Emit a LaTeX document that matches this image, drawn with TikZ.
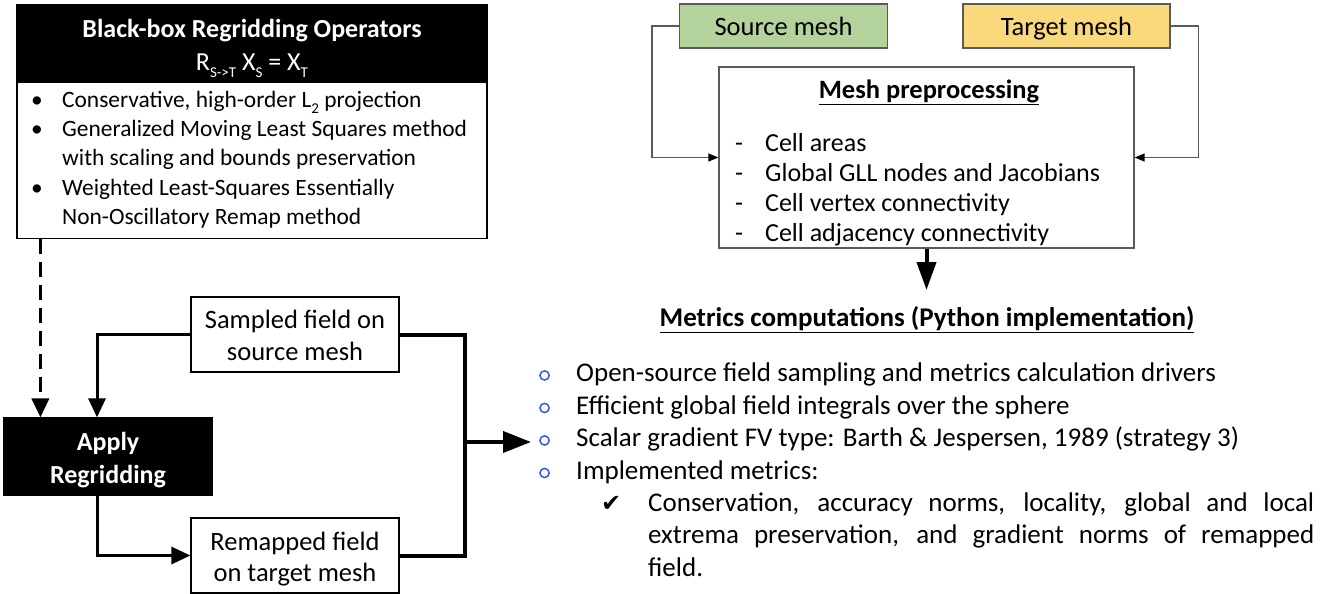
\documentclass[tikz,border=0pt]{standalone}
\usepackage{fontspec}
\setmainfont{Carlito}
\newfontfamily\symbolfont{DejaVu Sans}
\usetikzlibrary{arrows.meta, positioning, calc}
\definecolor{srcgreen}{HTML}{B4D39C}
\definecolor{tgtyellow}{HTML}{FAD97C}
\definecolor{bulblue}{HTML}{2E5BE8}
\definecolor{rimgray}{HTML}{5A5A5A}
\newcommand{\lowsub}[2][7pt]{\raisebox{-#1}{\fontsize{15}{15}\selectfont #2}}
\newcommand{\boxtext}[2][0pt]{\raisebox{-#1}[\height][\depth]{\begin{tabular}{@{}c@{}}#2\end{tabular}}}
\newcommand{\listtext}[1]{\begin{tabular}{@{}l@{}}#1\end{tabular}}
\newcommand{\opsitem}{\makebox[36pt][l]{\hspace{5pt}\textbullet}}
\newcommand{\opsgap}{\hspace*{36pt}}
\newcommand{\prepitem}{\makebox[34pt][l]{\hspace{4pt}-}}
\newcommand{\metitem}{\makebox[39pt][l]{\hspace{2pt}\tikz[baseline=-6.3pt]\draw[bulblue, line width=1.5pt] (0,0) circle[radius=4.6pt];}}
\tikzset{%
	plain/.style={draw, rectangle, inner sep=0mm, line width=1.2pt, align=center,
		font=\fontsize{26.5}{32}\selectfont},
	dark/.style={plain, fill=black, text=white},
	mesh/.style={plain, draw=rimgray, minimum width=208pt, minimum height=44pt,
		text height=24.5pt, text depth=5.5pt},
	textnode/.style={inner sep=0mm, align=left},
	flow/.style={-{Triangle[length=19pt, width=17pt]}, line width=3pt},
	dashflow/.style={flow, line width=3.8pt, dash pattern=on 15pt off 8pt},
	bracket/.style={line width=4pt},
	bigflow/.style={-{Triangle[length=28pt, width=21pt]}, line width=4pt},
	feed/.style={-{Triangle[length=10pt, width=8pt, color=black]}, line width=1.3pt, draw=rimgray}
}

\begin{document}
\begin{tikzpicture}[x=1pt, y=-1pt]
	\useasboundingbox (0,0) rectangle (1326,594);
	% regridding side
	\node[dark, minimum width=470pt, minimum height=76pt, font=\fontsize{26}{33}\selectfont] (hdr) at (252,43)
		{\boxtext[4pt]{\textbf{Black-box Regridding Operators}\\R\lowsub{S->T} X\lowsub{S} = X\lowsub{T}}};
	\node[plain, minimum width=470pt, minimum height=156pt, below=0pt of hdr] (ops) {};
	\node[textnode, anchor=west, font=\fontsize{23.4}{29.3}\selectfont] (opslist) at (26,160)
		{\listtext{\opsitem Conservative, high-order L\lowsub[6pt]{2} projection\\
		\opsitem Generalized Moving Least Squares method\\
		\opsgap with scaling and bounds preservation\\
		\opsitem Weighted Least-Squares Essentially\\
		\opsgap Non-Oscillatory Remap method}};
	\node[dark, minimum width=208pt, minimum height=77pt, font=\bfseries\fontsize{26}{33}\selectfont] (apply) at (108,456.5)
		{\boxtext[3.5pt]{Apply\\Regridding}};
	\node[plain, minimum width=208pt, minimum height=75pt] (sampled) at (295,334.5)
		{\boxtext[3.3pt]{Sampled field on\\source mesh}};
	\node[plain, minimum width=208pt, minimum height=75pt, font=\fontsize{26.5}{31}\selectfont] (remapped) at (295,555.5)
		{\boxtext[4.5pt]{Remapped field\\on target mesh}};
	\coordinate (joint) at (465,442);
	\coordinate (metin) at (531,442);

	\draw[dashflow] ($(ops.south west)+(24,0)$) -- ($(apply.north west)+(37,0)$);
	\draw[flow] (sampled.west) -| ($(apply.north)+(-11,0)$);
	\draw[flow] ($(apply.south)+(-11,0)$) |- (remapped.west);
	\draw[bracket] (sampled.east) -| (joint) |- (remapped.east);
	\draw[bigflow] (joint) -- (metin);

	% mesh side
	\node[mesh, fill=srcgreen] (src) at (783.5,26) {Source mesh};
	\node[mesh, fill=tgtyellow, minimum width=207pt] (tgt) at (1066.5,26) {Target mesh};
	\node[plain, draw=rimgray, minimum width=415pt, minimum height=181pt] (prep) at (926.5,157.5) {};
	\node[textnode, font=\bfseries\fontsize{26.5}{32}\selectfont] (prephead) at (929,92) {\underline{Mesh preprocessing}};
	\node[textnode, anchor=west, font=\fontsize{26}{30}\selectfont] (preplist) at (731,190)
		{\listtext{\prepitem Cell areas\\
		\prepitem Global GLL nodes and Jacobians\\
		\prepitem Cell vertex connectivity\\
		\prepitem Cell adjacency connectivity}};
	\coordinate (metop) at (926.5,290);

	\draw[feed] (src.west) -- ++(-27,0) |- (prep.west);
	\draw[feed] (tgt.east) -- ++(28,0) |- (prep.east);
	\draw[bigflow, -{Triangle[length=28pt, width=19pt]}] (prep.south) -- (metop);

	% metrics
	\node[textnode, font=\bfseries\fontsize{27}{32}\selectfont] (mhead) at (927,320) {\underline{Metrics computations (Python implementation)}};
	\node[textnode, anchor=west, font=\fontsize{27}{32.5}\selectfont] (mlist) at (537,424)
		{\listtext{\metitem Open-source field sampling and metrics calculation drivers\\
		\metitem Efficient global field integrals over the sphere\\
		\metitem Scalar gradient FV type: Barth \& Jespersen, 1989 (strategy 3)\\
		\metitem Implemented metrics:}};
	\node[textnode, anchor=west, font=\fontsize{27}{32.5}\selectfont] (mcheck) at (600,534.5)
		{\makebox[48pt][l]{\hspace{1pt}{\fontsize{24}{24}\symbolfont ✔}}\parbox[t]{666pt}{Conservation, accuracy norms, locality, global and local\linebreak
		extrema preservation, and gradient norms of remapped\linebreak field.}};
\end{tikzpicture}
\end{document}
